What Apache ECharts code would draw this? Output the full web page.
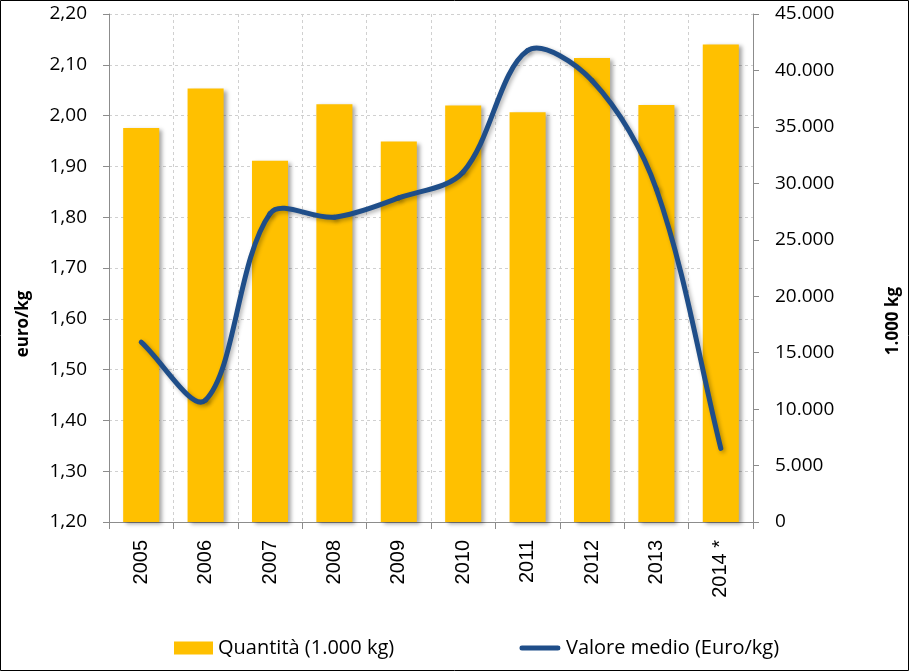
<!DOCTYPE html>
<html><head><meta charset="utf-8">
<script src="https://cdn.jsdelivr.net/npm/echarts@6/dist/echarts.min.js"></script>
<style>html,body{margin:0;padding:0;background:#fff}#c{width:910px;height:672px}</style>
</head><body><div id="c"></div>
<script>
const categories = ['2005','2006','2007','2008','2009','2010','2011','2012','2013','2014 *'];
const quantita = [34900, 38400, 32000, 37000, 33700, 36900, 36300, 41100, 36950, 42300];
const valoreMedio = [1.554, 1.44, 1.807, 1.80, 1.838, 1.889, 2.128, 2.069, 1.855, 1.345];
const leftTicks = ['1,20','1,30','1,40','1,50','1,60','1,70','1,80','1,90','2,00','2,10','2,20'];

const chart = echarts.init(document.getElementById('c'));
const axisCol = '#8c8c8c';
const lineCol = '#1F4E89';
const gridStyle = {type:[3,3], color:'#d0d0d0', width:1};
const tickFont = {fontFamily:'Open Sans', fontSize:19, color:'#000'};

function dist(u, v) { return Math.hypot(v[0] - u[0], v[1] - u[1]); }
function renderSmooth(params, api) {
  if (params.dataIndex !== 0) return null;
  const p = valoreMedio.map((v, i) => api.coord([i, v]));
  const n = p.length, children = [];
  for (let i = 0; i < n - 1; i++) {
    const a = p[Math.max(i - 1, 0)], b = p[i], c = p[i + 1], d = p[Math.min(i + 2, n - 1)];
    const dab = dist(a, b), dbc = dist(b, c), dcd = dist(c, d);
    const f1 = (1 / 3) * dbc / (dab + dbc), f2 = (1 / 3) * dbc / (dbc + dcd);
    children.push({
      type: 'bezierCurve',
      shape: {
        x1: b[0], y1: b[1], x2: c[0], y2: c[1],
        cpx1: b[0] + (c[0] - a[0]) * f1, cpy1: b[1] + (c[1] - a[1]) * f1,
        cpx2: c[0] - (d[0] - b[0]) * f2, cpy2: c[1] - (d[1] - b[1]) * f2
      },
      style: {stroke: lineCol, lineWidth: 5, fill: null, lineCap: 'round',
        shadowColor: 'rgba(0,0,0,0.3)', shadowBlur: 4, shadowOffsetX: 2, shadowOffsetY: 2}
    });
  }
  return {type: 'group', children};
}

chart.setOption({
  animation:false,
  grid:{left:109, right:157, top:14, bottom:150},
  legend:[{
    top:633, left:169, itemWidth:39, itemHeight:13, itemGap:4,
    textStyle:{fontFamily:'Open Sans', fontSize:20, color:'#000'},
    data:[{name:'Quantità (1.000 kg)', icon:'rect'}]
  },{
    top:633, left:514, itemWidth:42, itemHeight:13, itemGap:4,
    textStyle:{fontFamily:'Open Sans', fontSize:20, color:'#000'},
    data:[{name:'Valore medio (Euro/kg)', icon:'path://M3,4 L39,4 A2.5,2.5 0 0 1 39,9 L3,9 A2.5,2.5 0 0 1 3,4 Z M0,0 L0,0.01 Z M42,13 L42,13.01 Z'}]
  }],
  xAxis:{
    type:'category', data:categories, boundaryGap:true,
    axisLine:{lineStyle:{color:axisCol}},
    axisTick:{show:true, length:7, lineStyle:{color:axisCol}},
    splitLine:{show:true, lineStyle:gridStyle},
    axisLabel:{rotate:90, fontFamily:'Liberation Sans', fontSize:20, color:'#000', margin:18}
  },
  yAxis:[{
    type:'value', min:1.2, max:2.2, interval:0.1,
    axisLine:{show:true, lineStyle:{color:axisCol}},
    axisTick:{show:true, length:6, lineStyle:{color:axisCol}},
    splitLine:{show:true, lineStyle:gridStyle},
    axisLabel:Object.assign({margin:22, formatter:(v)=>leftTicks[Math.round((v-1.2)*10)]}, tickFont)
  },{
    type:'value', min:0, max:45000, interval:5000,
    axisLine:{show:true, lineStyle:{color:axisCol}},
    axisTick:{show:true, length:6, lineStyle:{color:axisCol}},
    splitLine:{show:false},
    axisLabel:Object.assign({margin:22, formatter:(v)=>v===0?'0':v.toLocaleString('de-DE')}, tickFont)
  }],
  series:[{
    name:'Quantità (1.000 kg)', type:'bar', yAxisIndex:1, data:quantita, barWidth:'56%',
    itemStyle:{color:'#FFC000', shadowColor:'rgba(0,0,0,0.35)', shadowBlur:4, shadowOffsetX:3, shadowOffsetY:2}
  },{
    name:'Valore medio (Euro/kg)', type:'custom', yAxisIndex:0,
    data:valoreMedio.map((v,i)=>[i,v]), encode:{x:0, y:1},
    renderItem:renderSmooth, itemStyle:{color:lineCol}, z:3
  }],
  graphic:[
    {type:'rect', shape:{x:0.5,y:0.5,width:908,height:670}, style:{fill:'none', stroke:'#000', lineWidth:1}, silent:true},
    {type:'text', x:23, y:324, rotation:Math.PI/2, style:{text:'euro/kg', font:'bold 17px Open Sans', fill:'#000', align:'center', verticalAlign:'middle'}},
    {type:'text', x:893, y:321, rotation:Math.PI/2, style:{text:'1.000 kg', font:'bold 17px Open Sans', fill:'#000', align:'center', verticalAlign:'middle'}}
  ]
});
</script></body></html>
